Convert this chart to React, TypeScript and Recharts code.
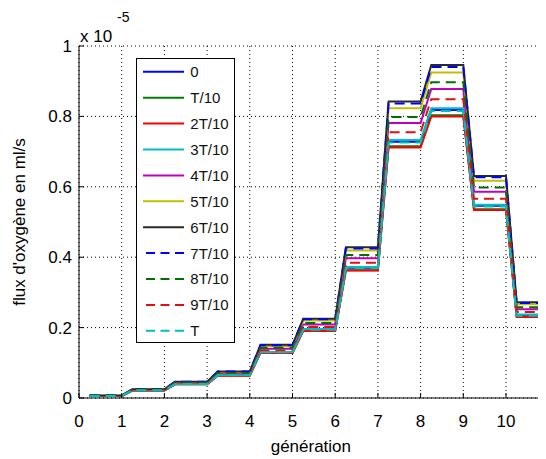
import React from 'react';
import {
  LineChart,
  Line,
  XAxis,
  YAxis,
  CartesianGrid,
  Legend,
} from 'recharts';

// generations on the x axis (one plateau per generation)
const generations = [0, 1, 2, 3, 4, 5, 6, 7, 8, 9, 10];
const xTicks = [0, 1, 2, 3, 4, 5, 6, 7, 8, 9, 10];
const yTicks = [0, 0.2, 0.4, 0.6, 0.8, 1];

// oxygen flux (x 1e-5 ml/s) per generation, one array per time step
const flux0 = [0.006, 0.022, 0.04, 0.065, 0.131, 0.195, 0.37, 0.728, 0.818, 0.546, 0.235];
const fluxT1 = [0.006, 0.021, 0.039, 0.064, 0.128, 0.191, 0.363, 0.715, 0.803, 0.536, 0.231];
const fluxT2 = [0.006, 0.021, 0.039, 0.063, 0.128, 0.19, 0.362, 0.712, 0.8, 0.534, 0.23];
const fluxT3 = [0.006, 0.022, 0.04, 0.065, 0.131, 0.196, 0.372, 0.733, 0.823, 0.549, 0.237];
const fluxT4 = [0.006, 0.023, 0.043, 0.07, 0.14, 0.209, 0.397, 0.781, 0.878, 0.586, 0.252];
const fluxT5 = [0.007, 0.024, 0.045, 0.073, 0.148, 0.22, 0.419, 0.823, 0.925, 0.617, 0.266];
const fluxT6 = [0.007, 0.025, 0.046, 0.075, 0.151, 0.225, 0.428, 0.842, 0.946, 0.631, 0.272];
const fluxT7 = [0.007, 0.025, 0.046, 0.075, 0.15, 0.224, 0.425, 0.837, 0.94, 0.627, 0.27];
const fluxT8 = [0.007, 0.024, 0.044, 0.071, 0.143, 0.213, 0.406, 0.798, 0.897, 0.598, 0.258];
const fluxT9 = [0.006, 0.022, 0.041, 0.067, 0.135, 0.202, 0.384, 0.755, 0.849, 0.566, 0.244];
const fluxT = [0.006, 0.022, 0.04, 0.065, 0.13, 0.194, 0.369, 0.726, 0.815, 0.544, 0.234];

const series = [
  { key: 's0', name: '0', values: flux0, color: '#0000ff', dashed: false },
  { key: 's1', name: 'T/10', values: fluxT1, color: '#008000', dashed: false },
  { key: 's2', name: '2T/10', values: fluxT2, color: '#ff0000', dashed: false },
  { key: 's3', name: '3T/10', values: fluxT3, color: '#00bfbf', dashed: false },
  { key: 's4', name: '4T/10', values: fluxT4, color: '#bf00bf', dashed: false },
  { key: 's5', name: '5T/10', values: fluxT5, color: '#bfbf00', dashed: false },
  { key: 's6', name: '6T/10', values: fluxT6, color: '#2a2a2a', dashed: false },
  { key: 's7', name: '7T/10', values: fluxT7, color: '#0000ff', dashed: true },
  { key: 's8', name: '8T/10', values: fluxT8, color: '#007000', dashed: true },
  { key: 's9', name: '9T/10', values: fluxT9, color: '#e01010', dashed: true },
  { key: 's10', name: 'T', values: fluxT, color: '#00bfbf', dashed: true },
];

// each generation is a flat step from g+0.25 to g+1
const chartData = generations.flatMap((g, i) => {
  const start: Record<string, number> = { x: g + 0.25 };
  const end: Record<string, number> = { x: g + 1 };
  series.forEach((s) => {
    start[s.key] = s.values[i];
    end[s.key] = s.values[i];
  });
  return [start, end];
});

const renderLegend = () => (
  <svg width={100} height={286}>
    <rect x={0.5} y={0.5} width={98} height={284} fill="#fff" stroke="#000" />
    {series.map((s, i) => {
      const cy = 13.8 + i * 25.9;
      return (
        <g key={s.key}>
          <line
            x1={s.dashed ? 10 : 7}
            x2={48}
            y1={cy}
            y2={cy}
            stroke={s.color}
            strokeWidth={2}
            strokeDasharray={s.dashed ? '9 5.5' : undefined}
          />
          <text x={54.3} y={cy} dy="0.36em" fontSize={15} fill="#111">
            {s.name}
          </text>
        </g>
      );
    })}
  </svg>
);

const renderYLabel = () => (
  <g>
    <text
      x={17}
      y={214}
      transform="rotate(-90, 17, 214)"
      textAnchor="middle"
      fontSize={17}
      fill="#000"
    >
      flux d'oxygène en ml/s
    </text>
    <text x={72} y={33.7} fontSize={17} fill="#000">
      x 10
    </text>
    <text x={109} y={13.7} fontSize={14} fill="#000">
      -5
    </text>
  </g>
);

export default function App() {
  return (
    <div
      style={{
        width: 538,
        height: 451,
        overflow: 'hidden',
        fontFamily: '"Liberation Sans", Arial, sans-serif',
      }}
    >
      <LineChart
        width={600}
        height={451}
        data={chartData}
        margin={{ top: 38, right: 59.3, left: 0, bottom: 31 }}
      >
        <CartesianGrid stroke="#000" strokeDasharray="1 3" />
        <XAxis
          dataKey="x"
          type="number"
          domain={[0, 11]}
          ticks={xTicks}
          height={30}
          tickSize={-5}
          tickMargin={22}
          tick={{ fill: '#000', fontSize: 17 }}
          tickLine={{ stroke: '#000' }}
          axisLine={{ stroke: '#000' }}
          label={{
            value: 'génération',
            position: 'bottom',
            offset: 11.6,
            fill: '#000',
            fontSize: 17,
            dx: -3,
          }}
        />
        <XAxis
          xAxisId="top"
          orientation="top"
          type="number"
          domain={[0, 11]}
          ticks={xTicks}
          height={0}
          tickSize={-5}
          tick={() => <g />}
          tickLine={{ stroke: '#000' }}
          axisLine={{ stroke: '#000' }}
        />
        <YAxis
          type="number"
          domain={[0, 1]}
          ticks={yTicks}
          width={71}
          tickSize={-5}
          tickMargin={12}
          tick={{ fill: '#000', fontSize: 17 }}
          tickLine={{ stroke: '#000' }}
          axisLine={{ stroke: '#000' }}
          tickFormatter={(v: number) => String(+v.toFixed(1))}
          label={renderYLabel}
        />
        <Legend
          layout="horizontal"
          verticalAlign="middle"
          align="center"
          content={renderLegend}
          wrapperStyle={{ left: 127.7, top: 50.3, width: 100, height: 286 }}
        />
        {series.map((s) => (
          <Line
            key={s.key}
            type="linear"
            dataKey={s.key}
            name={s.name}
            stroke={s.color}
            strokeWidth={2}
            strokeDasharray={s.dashed ? '10 6' : undefined}
            dot={false}
            activeDot={false}
            isAnimationActive={false}
          />
        ))}
      </LineChart>
    </div>
  );
}
